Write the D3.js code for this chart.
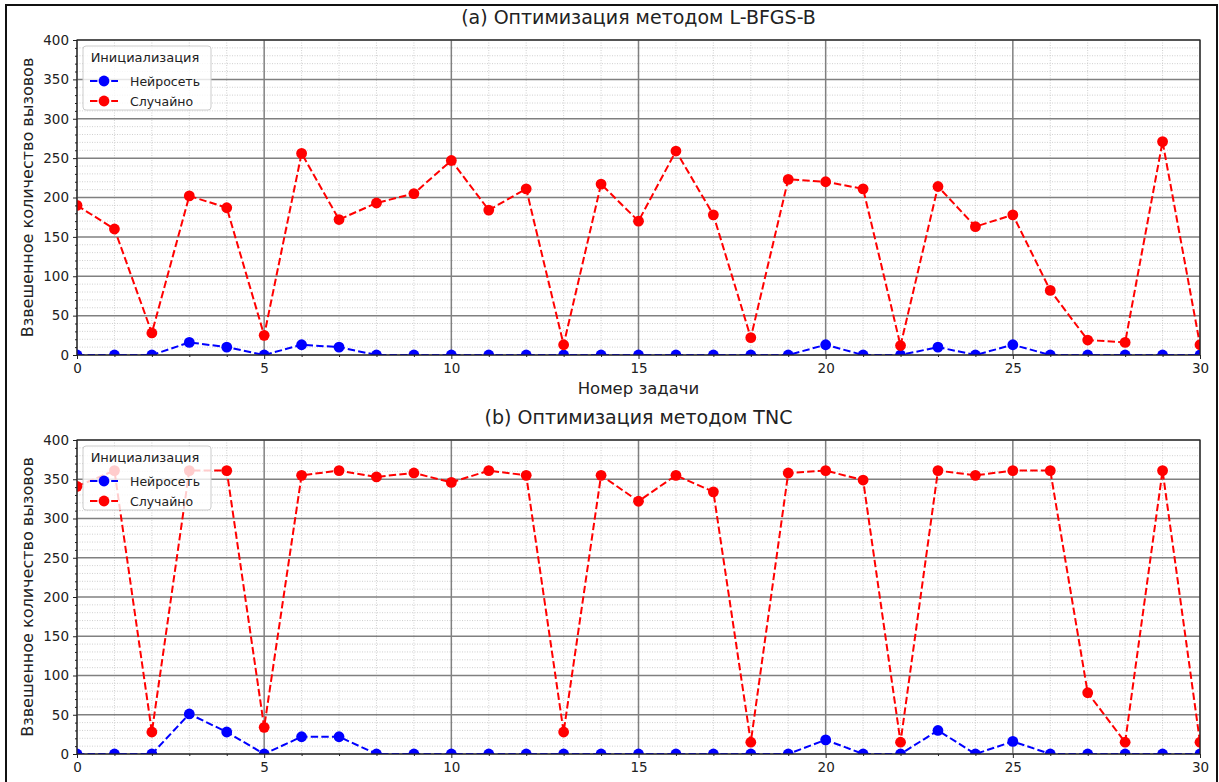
<!DOCTYPE html>
<html><head><meta charset="utf-8">
<script src="https://cdn.jsdelivr.net/npm/d3@7"></script>
<style>
body{margin:0;background:#fff;}
svg text{font-family:"DejaVu Sans",sans-serif;fill:#222;}
</style></head>
<body><svg id="c" width="1219" height="782"></svg>
<script>
const tasks = [0,1,2,3,4,5,6,7,8,9,10,11,12,13,14,15,16,17,18,19,20,21,22,23,24,25,26,27,28,29,30];
const lbfgsNeural = [0,0,0,16,10,0,13,10,0,0,0,0,0,0,0,0,0,0,0,0,13,0,0,10,0,13,0,0,0,0,0];
const lbfgsRandom = [190,160,28,202,187,25,256,172,193,205,247,184,211,13,217,170,259,178,22,223,220,211,12,214,163,178,82,19,16,271,13];
const tncNeural = [0,0,0,51,28,0,22,22,0,0,0,0,0,0,0,0,0,0,0,0,18,0,0,30,0,16,0,0,0,0,0];
const tncRandom = [341,361,28,361,361,34,355,361,353,358,346,361,355,28,355,322,355,334,15,358,361,349,15,361,355,361,361,78,15,361,15];
const xTicks = [0,5,10,15,20,25,30];
const yTicks = [0,50,100,150,200,250,300,350,400];
const seriesNames = ["Нейросеть","Случайно"];
const seriesColors = ["#0000ff","#ff0000"];
const titles = ["(a) Оптимизация методом L-BFGS-B","(b) Оптимизация методом TNC"];
const legendTitle = "Инициализация";
const xLabel = "Номер задачи";
const yLabel = "Взвешенное количество вызовов";

const svg = d3.select("#c");
svg.append("rect").attr("x",6).attr("y",5).attr("width",1211).attr("height",790)
  .attr("fill","none").attr("stroke","#111").attr("stroke-width",2);

const L = 77, R = 1200;
const panels = [
  {top:40, bottom:355, data:[lbfgsNeural,lbfgsRandom], title:titles[0], showX:true},
  {top:440, bottom:754, data:[tncNeural,tncRandom], title:titles[1], showX:false}
];

panels.forEach((p,pi)=>{
  const x = d3.scaleLinear().domain([0,30]).range([L,R]);
  const y = d3.scaleLinear().domain([0,400]).range([p.bottom,p.top]);
  const g = svg.append("g");
  const cid = "clip"+pi;
  svg.append("defs").append("clipPath").attr("id",cid).append("rect")
    .attr("x",L).attr("y",p.top).attr("width",R-L).attr("height",p.bottom-p.top);

  const minorX = tasks.filter(t=>t%5!==0);
  const minorY = d3.range(0,401,10).filter(v=>v%50!==0);
  g.selectAll(".mx").data(minorX).join("line")
    .attr("x1",d=>x(d)).attr("x2",d=>x(d)).attr("y1",p.top).attr("y2",p.bottom)
    .attr("stroke","#c4c4c4").attr("stroke-width",0.8).attr("stroke-dasharray","1,1.5");
  g.selectAll(".my").data(minorY).join("line")
    .attr("y1",d=>y(d)).attr("y2",d=>y(d)).attr("x1",L).attr("x2",R)
    .attr("stroke","#c4c4c4").attr("stroke-width",0.8).attr("stroke-dasharray","1,1.5");
  g.selectAll(".gx").data(xTicks).join("line")
    .attr("x1",d=>x(d)).attr("x2",d=>x(d)).attr("y1",p.top).attr("y2",p.bottom)
    .attr("stroke","#808080").attr("stroke-width",1.5);
  g.selectAll(".gy").data(yTicks).join("line")
    .attr("y1",d=>y(d)).attr("y2",d=>y(d)).attr("x1",L).attr("x2",R)
    .attr("stroke","#808080").attr("stroke-width",1.5);

  const plot = g.append("g").attr("clip-path",`url(#${cid})`);
  p.data.forEach((vals,si)=>{
    const pts = tasks.map((t,i)=>[t,vals[i]]);
    plot.append("path").datum(pts)
      .attr("d",d3.line().x(d=>x(d[0])).y(d=>y(d[1])))
      .attr("fill","none").attr("stroke",seriesColors[si]).attr("stroke-width",2)
      .attr("stroke-dasharray","7.4,3.2");
    plot.selectAll(null).data(pts).join("circle")
      .attr("cx",d=>x(d[0])).attr("cy",d=>y(d[1])).attr("r",5.4)
      .attr("fill",seriesColors[si]);
  });

  g.append("rect").attr("x",L).attr("y",p.top).attr("width",R-L).attr("height",p.bottom-p.top)
    .attr("fill","none").attr("stroke","#222").attr("stroke-width",1.2);

  const ax = d3.axisBottom(x).tickValues(xTicks).tickSize(4).tickPadding(4).tickFormat(d3.format("d"));
  const axG = g.append("g").attr("transform",`translate(0,${p.bottom})`).call(ax);
  const axm = g.append("g").attr("transform",`translate(0,${p.bottom})`)
    .call(d3.axisBottom(x).tickValues(minorX).tickSize(2).tickFormat(""));
  const ay = d3.axisLeft(y).tickValues(yTicks).tickSize(4).tickPadding(4);
  const ayG = g.append("g").attr("transform",`translate(${L},0)`).call(ay);
  const aym = g.append("g").attr("transform",`translate(${L},0)`)
    .call(d3.axisLeft(y).tickValues(minorY).tickSize(2).tickFormat(""));
  [axG,axm,ayG,aym].forEach(a=>{
    a.select(".domain").remove();
    a.selectAll("line").attr("stroke","#222");
    a.selectAll("text").attr("font-size",13.5).attr("font-family","DejaVu Sans").attr("fill","#222");
  });

  g.append("text").attr("x",(L+R)/2).attr("y",p.top-16).attr("text-anchor","middle")
    .attr("font-size",19).text(p.title);
  g.append("text").attr("transform",`translate(33,${(p.top+p.bottom)/2}) rotate(-90)`)
    .attr("text-anchor","middle").attr("font-size",16).text(yLabel);
  if(p.showX){
    g.append("text").attr("x",(L+R)/2).attr("y",p.bottom+39).attr("text-anchor","middle")
      .attr("font-size",16.5).text(xLabel);
  }

  const lg = g.append("g").attr("transform",`translate(${L+6},${p.top+6})`);
  lg.append("rect").attr("width",128).attr("height",64).attr("rx",3)
    .attr("fill","#fff").attr("fill-opacity",0.8).attr("stroke","#ccc").attr("stroke-width",1);
  lg.append("text").attr("x",62).attr("y",16).attr("text-anchor","middle").attr("font-size",13).text(legendTitle);
  seriesNames.forEach((n,i)=>{
    const yy = 35 + i*20;
    lg.append("line").attr("x1",7).attr("x2",35).attr("y1",yy).attr("y2",yy)
      .attr("stroke",seriesColors[i]).attr("stroke-width",2).attr("stroke-dasharray","7.4,3.2");
    lg.append("circle").attr("cx",21).attr("cy",yy).attr("r",5.4).attr("fill",seriesColors[i]);
    lg.append("text").attr("x",47).attr("y",yy+4.5).attr("font-size",12.5).text(n);
  });
});
</script></body></html>
